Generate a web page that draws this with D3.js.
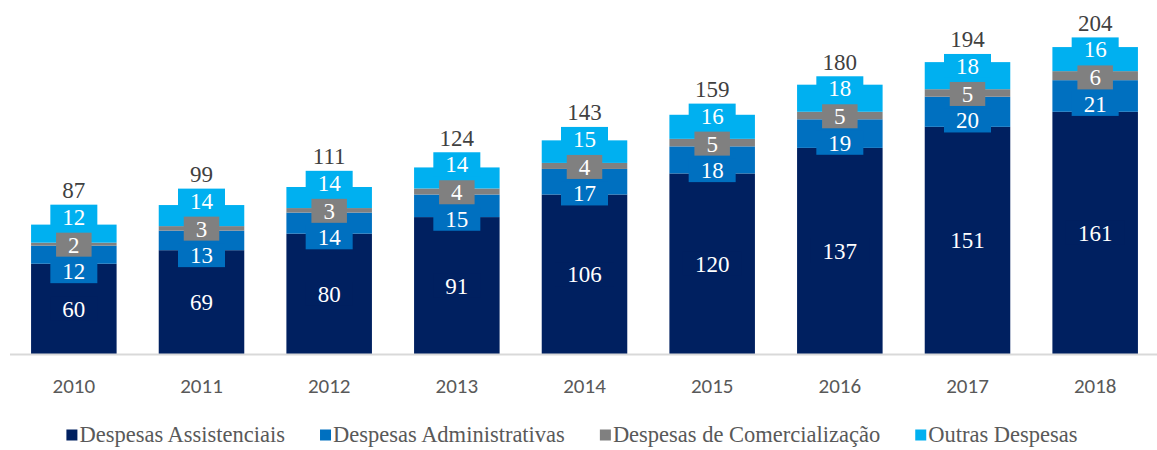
<!DOCTYPE html>
<html>
<head>
<meta charset="utf-8">
<script src="https://cdn.jsdelivr.net/npm/d3@7"></script>
<style>
  body { margin: 0; background: #fff; }
  svg { display: block; }
</style>
</head>
<body>
<div id="chart"></div>
<script>
// data
var years = ["2010", "2011", "2012", "2013", "2014", "2015", "2016", "2017", "2018"];
var assistenciais   = [60, 69, 80, 91, 106, 120, 137, 151, 161];
var administrativas = [12, 13, 14, 15, 17, 18, 19, 20, 21];
var comercializacao = [2, 3, 3, 4, 4, 5, 5, 5, 6];
var outras          = [12, 14, 14, 14, 15, 16, 18, 18, 16];
var totais          = [87, 99, 111, 124, 143, 159, 180, 194, 204];

var seriesNames = ["Despesas Assistenciais", "Despesas Administrativas", "Despesas de Comercialização", "Outras Despesas"];
var seriesColors = ["#002060", "#0070c0", "#808080", "#00b0f0"];

var width = 1157, height = 450;
var serif = "'Liberation Serif', 'Times New Roman', serif";

var svg = d3.select("#chart").append("svg")
  .attr("width", width)
  .attr("height", height);

var rows = years.map(function (y, i) {
  return {year: y, s0: assistenciais[i], s1: administrativas[i], s2: comercializacao[i], s3: outras[i], total: totais[i]};
});
var keys = ["s0", "s1", "s2", "s3"];
var stacked = d3.stack().keys(keys)(rows);

var x = d3.scaleBand()
  .domain(years)
  .range([10, 1159])
  .paddingInner(0.33)
  .paddingOuter(0.165);

var y = d3.scaleLinear()
  .domain([0, 220])
  .range([354, 23]);

// bars
svg.append("g").selectAll("g")
  .data(stacked)
  .enter().append("g")
  .attr("fill", function (d, i) { return seriesColors[i]; })
  .selectAll("rect")
  .data(function (d) { return d; })
  .enter().append("rect")
  .attr("x", function (d) { return x(d.data.year); })
  .attr("y", function (d) { return y(d[1]); })
  .attr("width", x.bandwidth())
  .attr("height", function (d) { return y(d[0]) - y(d[1]); });

// axis line
svg.append("line")
  .attr("x1", 10).attr("x2", width)
  .attr("y1", y(0) + 0.5).attr("y2", y(0) + 0.5)
  .attr("stroke", "#d9d9d9")
  .attr("stroke-width", 2);

// year labels
var xAxis = d3.axisBottom(x).tickSize(0).tickPadding(0);
var ax = svg.append("g")
  .attr("transform", "translate(0," + 393 + ")")
  .call(xAxis);
ax.select(".domain").remove();
ax.selectAll("text")
  .attr("dy", 0)
  .style("font-family", "Carlito, Lato, 'Liberation Sans', sans-serif")
  .style("font-size", "21px")
  .attr("fill", "#595959");

// segment labels, pushed apart where they overlap
var boxH = 24;
var minGaps = [0, 26.5, 26.5, 28];
var labelLayer = svg.append("g");

years.forEach(function (yr, i) {
  var labs = stacked.map(function (s, k) {
    var seg = s[i];
    return {k: k, value: seg.data[keys[k]], cy: (y(seg[0]) + y(seg[1])) / 2};
  });
  for (var it = 0; it < 300; it++) {
    for (var j = 1; j < labs.length; j++) {
      var gap = labs[j - 1].cy - labs[j].cy;
      if (gap < minGaps[j]) {
        var shift = (minGaps[j] - gap) / 2;
        labs[j - 1].cy += shift;
        labs[j].cy -= shift;
      }
    }
  }
  var cx = x(yr) + x.bandwidth() / 2;
  var topY = y(totais[i]);
  labs.forEach(function (l) {
    var g = labelLayer.append("g");
    var t = g.append("text")
      .attr("x", cx)
      .attr("y", l.cy + 8)
      .attr("text-anchor", "middle")
      .style("font-family", serif)
      .style("font-size", "23px")
      .attr("fill", "#fff")
      .text(l.value);
    var w = t.node().getComputedTextLength() + 24;
    g.insert("rect", "text")
      .attr("x", cx - w / 2)
      .attr("y", l.cy - boxH / 2)
      .attr("width", w)
      .attr("height", boxH)
      .attr("fill", seriesColors[l.k]);
    topY = Math.min(topY, l.cy - boxH / 2);
  });
  labelLayer.append("text")
    .attr("x", cx)
    .attr("y", topY - 6.5)
    .attr("text-anchor", "middle")
    .style("font-family", serif)
    .style("font-size", "23px")
    .attr("fill", "#404040")
    .text(totais[i]);
});

// legend
var legend = svg.append("g");
var items = legend.selectAll("g")
  .data(seriesNames)
  .enter().append("g");
items.append("rect")
  .attr("width", 11).attr("height", 11)
  .attr("y", 429.5)
  .attr("fill", function (d, i) { return seriesColors[i]; });
items.append("text")
  .attr("x", 13)
  .attr("y", 441.5)
  .style("font-family", serif)
  .style("font-size", "22.5px")
  .attr("fill", "#595959")
  .text(function (d) { return d; });

var offs = [], cur = 0;
items.each(function () {
  offs.push(cur);
  cur += 13 + d3.select(this).select("text").node().getComputedTextLength() + 35;
});
var totalW = cur - 35;
var startX = 572 - totalW / 2;
items.attr("transform", function (d, i) { return "translate(" + (startX + offs[i]) + ",0)"; });
</script>
</body>
</html>
